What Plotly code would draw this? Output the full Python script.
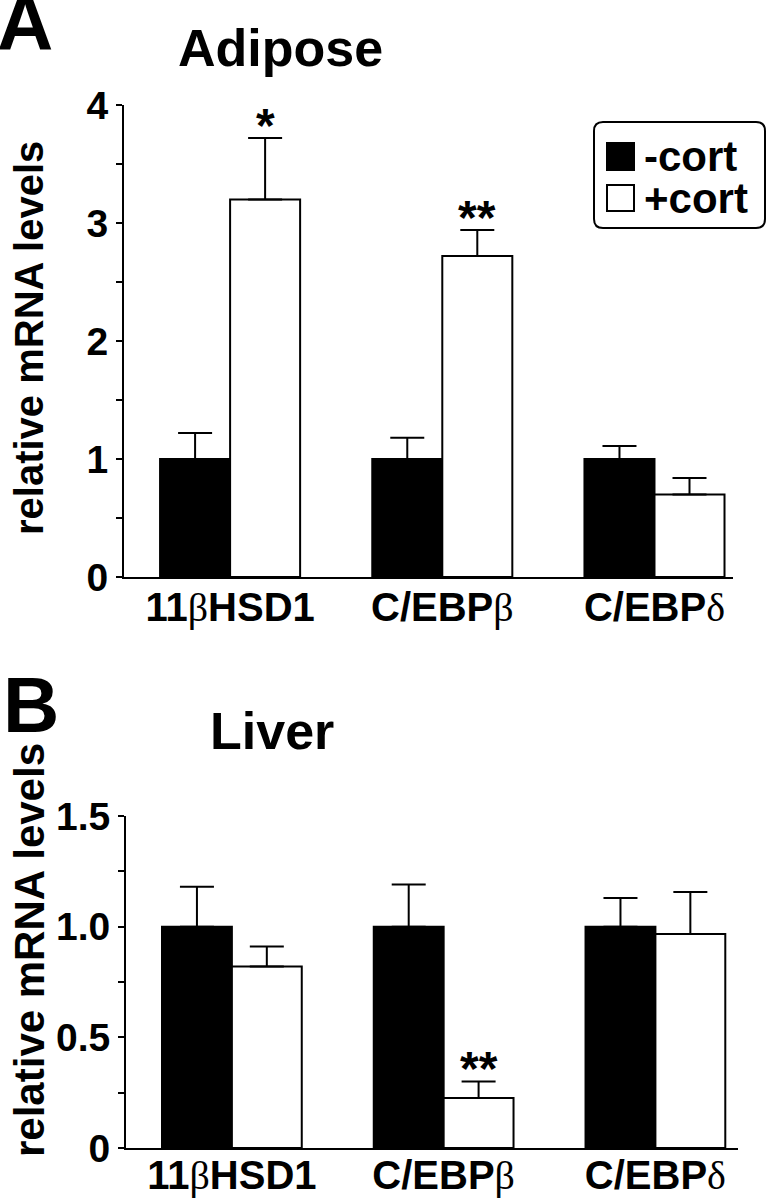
import plotly.graph_objects as go

# ---------------- data ----------------
genes = ["11βHSD1", "C/EBPβ", "C/EBPδ"]
series_names = ["-cort", "+cort"]

adipose_minus = [1.0, 1.0, 1.0]
adipose_minus_err = [0.22, 0.18, 0.11]
adipose_plus = [3.20, 2.72, 0.70]
adipose_plus_err = [0.52, 0.22, 0.14]
adipose_sig = ["*", "**", ""]

liver_minus = [1.0, 1.0, 1.0]
liver_minus_err = [0.18, 0.19, 0.13]
liver_plus = [0.82, 0.226, 0.967]
liver_plus_err = [0.09, 0.075, 0.19]
liver_sig = ["", "**", ""]

adipose_ticks = [0, 1, 2, 3, 4]
adipose_ticktext = ["0", "1", "2", "3", "4"]
liver_ticks = [0, 0.5, 1.0, 1.5]
liver_ticktext = ["0", "0.5", "1.0", "1.5"]

panel_titles = ["Adipose", "Liver"]
panel_letters = ["A", "B"]
y_title = "relative mRNA levels"

# ---------------- style ----------------
W, H = 766, 1199
FONT = "Liberation Sans, Arial, Helvetica, sans-serif"
BARGAP = 0.34
bar_w = (1 - BARGAP) / 2


def px_x(p):
    return p / W


def px_y(p):
    return 1 - p / H


def cat_label(s):
    out = ""
    for ch in s:
        if ch in "βδ":
            out += ("<span style='font-family:Liberation Serif, Times New Roman, serif;"
                    "font-weight:normal'>" + ch + "</span>")
        else:
            out += ch
    return out


fig = go.Figure()

panels = [
    dict(minus=adipose_minus, minus_err=adipose_minus_err, plus=adipose_plus,
         plus_err=adipose_plus_err, sig=adipose_sig, xa="x", ya="y"),
    dict(minus=liver_minus, minus_err=liver_minus_err, plus=liver_plus,
         plus_err=liver_plus_err, sig=liver_sig, xa="x2", ya="y2"),
]

for k, p in enumerate(panels):
    fig.add_trace(go.Bar(
        x=genes, y=p["minus"], name=series_names[0], xaxis=p["xa"], yaxis=p["ya"],
        marker=dict(color="black", line=dict(color="black", width=2)),
        error_y=dict(type="data", array=p["minus_err"], arrayminus=[0] * 3,
                     symmetric=False, color="black", thickness=2, width=17),
        showlegend=False, offsetgroup="m"))
    fig.add_trace(go.Bar(
        x=genes, y=p["plus"], name=series_names[1], xaxis=p["xa"], yaxis=p["ya"],
        marker=dict(color="white", line=dict(color="black", width=2)),
        error_y=dict(type="data", array=p["plus_err"], arrayminus=[0] * 3,
                     symmetric=False, color="black", thickness=2, width=17),
        showlegend=False, offsetgroup="p"))
    # significance stars above +cort bars
    for i, s in enumerate(p["sig"]):
        if s:
            fig.add_annotation(
                x=i + bar_w / 2, y=p["plus"][i] + p["plus_err"][i],
                xref=p["xa"], yref=p["ya"], text=s, showarrow=False,
                yanchor="bottom", yshift=-16,
                font=dict(family=FONT, size=48, color="black", weight="bold"))

axis_common_x = dict(type="category", showline=True, linecolor="black", linewidth=2,
                     ticks="", showgrid=False, zeroline=False, automargin=False,
                     tickfont=dict(family=FONT, size=40, color="black", weight="bold"),
                     tickvals=genes, ticktext=[cat_label(g) for g in genes])
axis_common_y = dict(showline=True, linecolor="black", linewidth=2, showgrid=False,
                     zeroline=False, ticks="outside", ticklen=6, tickwidth=2,
                     tickcolor="black", automargin=False,
                     tickfont=dict(family=FONT, size=39, color="black", weight="bold"))

fig.update_layout(
    width=W, height=H,
    margin=dict(l=0, r=0, t=0, b=0, pad=0, autoexpand=False),
    paper_bgcolor="white", plot_bgcolor="white",
    barmode="group", bargap=BARGAP, bargroupgap=0,
    xaxis=dict(axis_common_x, domain=[px_x(124), px_x(733)], range=[-0.5, 2.37],
               anchor="y", ticklabelstandoff=-6),
    yaxis=dict(axis_common_y, domain=[px_y(577), px_y(105)], range=[0, 4],
               tickvals=adipose_ticks, ticktext=adipose_ticktext, anchor="x",
               minor=dict(ticks="outside", ticklen=6, tickwidth=2, tickcolor="black",
                          dtick=0.5)),
    xaxis2=dict(axis_common_x, domain=[px_x(126), px_x(738)], range=[-0.5, 2.39],
                anchor="y2", ticklabelstandoff=-9),
    yaxis2=dict(axis_common_y, domain=[px_y(1148), px_y(816)], range=[0, 1.5],
                tickvals=liver_ticks, ticktext=liver_ticktext, anchor="x2",
                minor=dict(ticks="outside", ticklen=6, tickwidth=2, tickcolor="black",
                           dtick=0.25)),
)

# panel letters, titles, y-axis titles
for letter, (lx, ly) in zip(panel_letters, [(0, 23), (6, 705)]):
    fig.add_annotation(x=px_x(lx), y=px_y(ly), xref="paper", yref="paper", text=letter,
                       showarrow=False, xanchor="left", yanchor="middle", xshift=-5,
                       font=dict(family=FONT, size=78, color="black", weight="bold"))
for title, (tx, ty) in zip(panel_titles, [(176, 48), (208, 731)]):
    fig.add_annotation(x=px_x(tx), y=px_y(ty), xref="paper", yref="paper", text=title,
                       showarrow=False, xanchor="left", yanchor="middle",
                       font=dict(family=FONT, size=52, color="black", weight="bold"))
for (cx, cy, fs) in [(29, 338, 40), (29, 950, 42)]:
    fig.add_annotation(x=px_x(cx), y=px_y(cy), xref="paper", yref="paper", text=y_title,
                       showarrow=False, textangle=-90, xanchor="center", yanchor="middle",
                       font=dict(family=FONT, size=fs, color="black", weight="bold"))

# legend box (rounded) with swatches
x0, y0, x1, y1, r = 594, 122, 765, 228, 9
path = (f"M {px_x(x0 + r)},{px_y(y0)} L {px_x(x1 - r)},{px_y(y0)} "
        f"Q {px_x(x1)},{px_y(y0)} {px_x(x1)},{px_y(y0 + r)} "
        f"L {px_x(x1)},{px_y(y1 - r)} Q {px_x(x1)},{px_y(y1)} {px_x(x1 - r)},{px_y(y1)} "
        f"L {px_x(x0 + r)},{px_y(y1)} Q {px_x(x0)},{px_y(y1)} {px_x(x0)},{px_y(y1 - r)} "
        f"L {px_x(x0)},{px_y(y0 + r)} Q {px_x(x0)},{px_y(y0)} {px_x(x0 + r)},{px_y(y0)} Z")
fig.add_shape(type="path", path=path, xref="paper", yref="paper",
              line=dict(color="black", width=2), fillcolor="white", layer="above")
swatches = [("black", 143, 170), ("white", 185, 211)]
for (col, sy0, sy1), name in zip(swatches, series_names):
    fig.add_shape(type="rect", xref="paper", yref="paper",
                  x0=px_x(607), x1=px_x(634), y0=px_y(sy1), y1=px_y(sy0),
                  fillcolor=col, line=dict(color="black", width=2), layer="above")
    fig.add_annotation(x=px_x(642), y=px_y((sy0 + sy1) / 2), xref="paper", yref="paper",
                       text=name, showarrow=False, xanchor="left", yanchor="middle",
                       font=dict(family=FONT, size=42, color="black", weight="bold"))

fig.write_html("out.html", config={"displayModeBar": False},
               post_script="document.body.style.margin='0';document.body.style.overflow='hidden';")
